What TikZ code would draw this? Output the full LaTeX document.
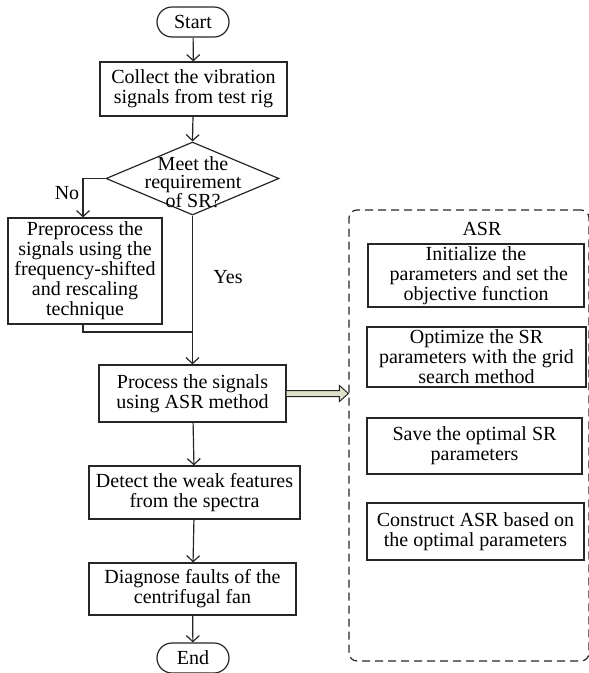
\documentclass[tikz,border=0pt]{standalone}
\usepackage{fontspec}
\setmainfont{Liberation Serif}
\usetikzlibrary{arrows.meta,shapes.geometric,shapes.misc,calc}
\definecolor{arrowfill}{HTML}{DDE2CB}
\definecolor{linecol}{HTML}{262626}
\begin{document}
\begin{tikzpicture}[x=1pt,y=-1pt,
  every node/.style={font=\fontsize{20}{20}\selectfont, text=black},
  box/.style={draw=linecol, line width=1.2pt, rectangle, align=center, inner sep=1pt},
  term/.style={draw=linecol, line width=1.2pt, rounded rectangle, minimum width=72pt, minimum height=30pt, inner sep=0pt},
  flow/.style={draw=linecol, line width=1.2pt, -{Straight Barb[length=6pt,width=13pt]}},
  plain/.style={draw=linecol, line width=1.2pt}
]
\useasboundingbox (0,0) rectangle (589,673);
% main column
\node[term] (start) at (193,22) {Start};
\node[box, minimum width=187pt, minimum height=54pt] (collect) at (193.5,89) {Collect the vibration\\signals from test rig};
\node[draw=linecol, line width=1.2pt, diamond, minimum width=173pt, minimum height=73pt, inner sep=0pt] (dec) at (192.5,178.5) {};
\node[align=center, font=\fontsize{20}{18.5}\selectfont] (dectext) at (193,182) {Meet the\\requirement\\of SR?};
\node[box, minimum width=154pt, minimum height=106pt] (pre) at (85,271) {Preprocess the\\signals using the\\frequency-shifted\\and rescaling\\technique};
\node[box, minimum width=187pt, minimum height=57pt] (proc) at (192.5,393.5) {Process the signals\\using ASR method};
\node[box, minimum width=211pt, minimum height=53pt] (detect) at (194.5,492.5) {Detect the weak features\\from the spectra};
\node[box, minimum width=207pt, minimum height=52pt] (diag) at (192.5,589) {Diagnose faults of the\\centrifugal fan};
\node[term] (end) at (193,658) {End};
% labels
\node (no) at (67,193) {No};
\node (yes) at (228,277) {Yes};
% connectors
\draw[flow] (start) -- (collect);
\draw[flow] (collect) -- (dec.north);
\coordinate (nobend) at (83,178.5);
\draw[flow] (dec.west) -- (nobend) -- (nobend |- pre.north);
\coordinate (join) at (193,332);
\draw[plain] (pre.south -| nobend) -- (nobend |- join) -- (join);
\draw[flow] (dec.south) -- (proc.north);
\draw[flow] (proc) -- (detect);
\draw[flow] (detect) -- (diag);
\draw[flow] (diag) -- (end);
% ASR container
\node[draw=linecol, line width=1.2pt, dash pattern=on 8pt off 5pt, rounded corners=8pt, minimum width=240pt, minimum height=451pt] (asr) at (469,435.5) {};
\node (asrlabel) at (482,229) {ASR};
\node[box, minimum width=216pt, minimum height=63pt] (init) at (476,275.5) {Initialize the\\\phantom{i}parameters and set the\\objective function};
\node[box, minimum width=219pt, minimum height=60pt] (opt) at (476.5,357) {Optimize the SR\\parameters with the grid\\search method};
\node[box, minimum width=215pt, minimum height=56pt] (save) at (474.5,446) {Save the optimal SR\\parameters};
\node[box, minimum width=217pt, minimum height=57pt] (cons) at (475.5,531.5) {Construct ASR based on\\the optimal parameters};
% hollow arrow
\coordinate (a0) at (proc.east);
\coordinate (a1) at (asr.west |- proc.east);
\draw[linecol, line width=1pt, fill=arrowfill]
  ($(a0)+(0,-3)$) -- ($(a1)+(-9,-3)$) -- ($(a1)+(-9,-8)$) -- (a1) -- ($(a1)+(-9,8)$) -- ($(a1)+(-9,3)$) -- ($(a0)+(0,3)$);
\end{tikzpicture}
\end{document}
